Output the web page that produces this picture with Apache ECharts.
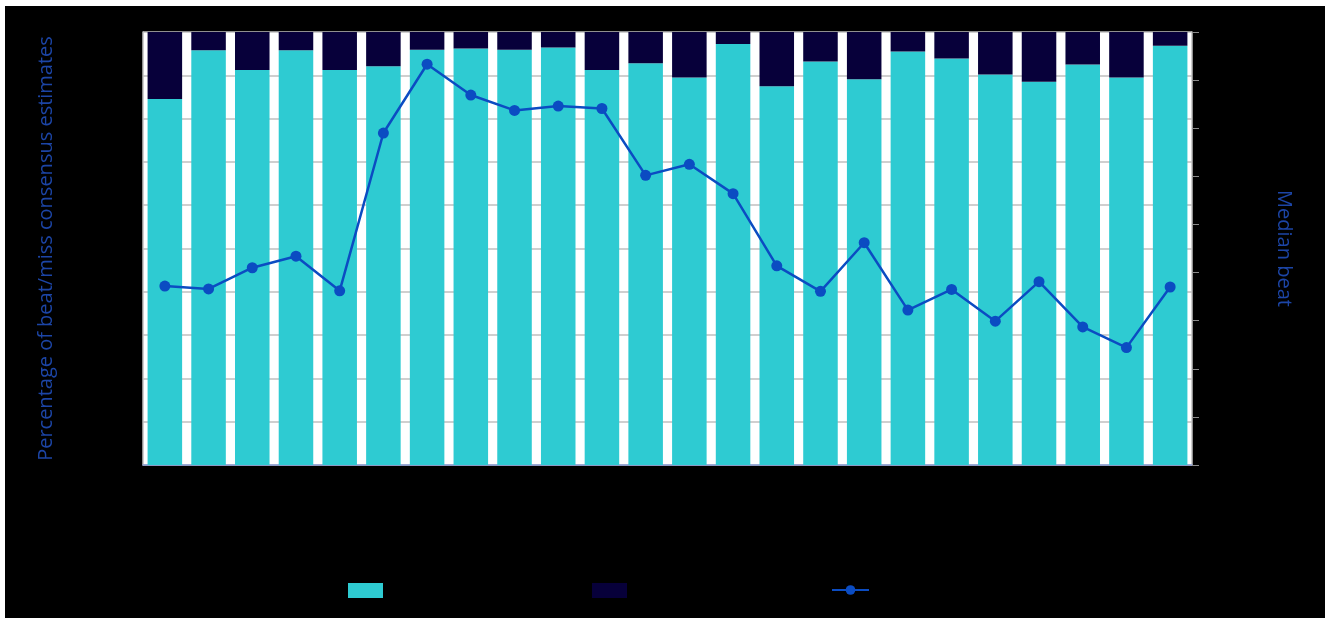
<!DOCTYPE html>
<html>
<head>
<meta charset="utf-8">
<script src="https://cdn.jsdelivr.net/npm/echarts@6/dist/echarts.min.js"></script>
<style>
html,body{margin:0;padding:0;background:#000;width:100%;height:100%;overflow:hidden}
#topb{position:absolute;left:0;top:0;width:100%;height:6px;background:#fff}
#leftb{position:absolute;left:0;top:0;width:5px;height:100%;background:#fff}
#c{position:absolute;left:5px;top:6px;width:1320px;height:612px;background:#000}
</style>
</head>
<body>
<div id="topb"></div>
<div id="leftb"></div>
<div id="c"></div>
<script>
const categories = ['1','2','3','4','5','6','7','8','9','10','11','12','13','14','15','16','17','18','19','20','21','22','23','24'];
const beatPct = [84.5, 95.8, 91.2, 95.8, 91.2, 92.1, 95.9, 96.2, 95.9, 96.4, 91.2, 92.8, 89.5, 97.2, 87.5, 93.2, 89.1, 95.5, 93.9, 90.2, 88.5, 92.5, 89.5, 96.8];
const missPct = beatPct.map(v => +(100 - v).toFixed(1));
const medianBeat = [3.72, 3.66, 4.10, 4.34, 3.62, 6.90, 8.33, 7.69, 7.37, 7.46, 7.41, 6.02, 6.25, 5.64, 4.14, 3.61, 4.62, 3.22, 3.65, 2.99, 3.81, 2.87, 2.44, 3.70];
const seriesNames = ['Beat', 'Miss', 'Median beat'];

const chart = echarts.init(document.getElementById('c'));
const titleStyle = {color: '#1c45a6', fontSize: 20, fontFamily: 'Open Sans'};
chart.setOption({
  backgroundColor: '#000',
  animation: false,
  grid: {left: 138, top: 26, width: 1049, height: 433, show: true, backgroundColor: '#fff', borderWidth: 0},
  legend: [
    {data: [seriesNames[0]], left: 338, top: 572, itemWidth: 35, itemHeight: 15, icon: 'rect', textStyle: {color: '#000'}},
    {data: [seriesNames[1]], left: 582, top: 572, itemWidth: 35, itemHeight: 15, icon: 'rect', textStyle: {color: '#000'}},
    {data: [seriesNames[2]], left: 821, top: 573, itemWidth: 37, itemHeight: 12, textStyle: {color: '#000'}}
  ],
  xAxis: {
    type: 'category', data: categories,
    axisLine: {lineStyle: {color: '#8c9ed8', width: 1.5}},
    axisTick: {show: false},
    axisLabel: {show: false}
  },
  yAxis: [
    {
      type: 'value', min: 0, max: 100, interval: 10,
      name: 'Percentage of beat/miss consensus estimates', nameLocation: 'middle', nameGap: 87,
      nameTextStyle: titleStyle,
      axisLine: {show: true, lineStyle: {color: '#bfbfbf', width: 1.5}},
      axisTick: {show: false},
      axisLabel: {show: false},
      splitLine: {lineStyle: {color: '#bfbfbf', width: 1.5}}
    },
    {
      type: 'value', min: 0, max: 9, interval: 1, position: 'right',
      name: 'Median beat', nameLocation: 'middle', nameGap: 82, nameRotate: -90,
      nameTextStyle: titleStyle,
      axisLine: {show: true, lineStyle: {color: '#bfbfbf', width: 1.5}},
      axisTick: {show: true, length: 7, lineStyle: {color: '#8a8a8a', width: 1}},
      axisLabel: {show: false},
      splitLine: {show: false}
    }
  ],
  series: [
    {name: seriesNames[0], type: 'bar', stack: 'p', data: beatPct, barCategoryGap: '21%', itemStyle: {color: '#2ecbd2'}},
    {name: seriesNames[1], type: 'bar', stack: 'p', data: missPct, itemStyle: {color: '#07003a'}},
    {name: seriesNames[2], type: 'line', yAxisIndex: 1, data: medianBeat, symbol: 'circle', symbolSize: 11,
     lineStyle: {color: '#0b4cc2', width: 2.5}, itemStyle: {color: '#0b4cc2'}, z: 5}
  ]
});
</script>
</body>
</html>
